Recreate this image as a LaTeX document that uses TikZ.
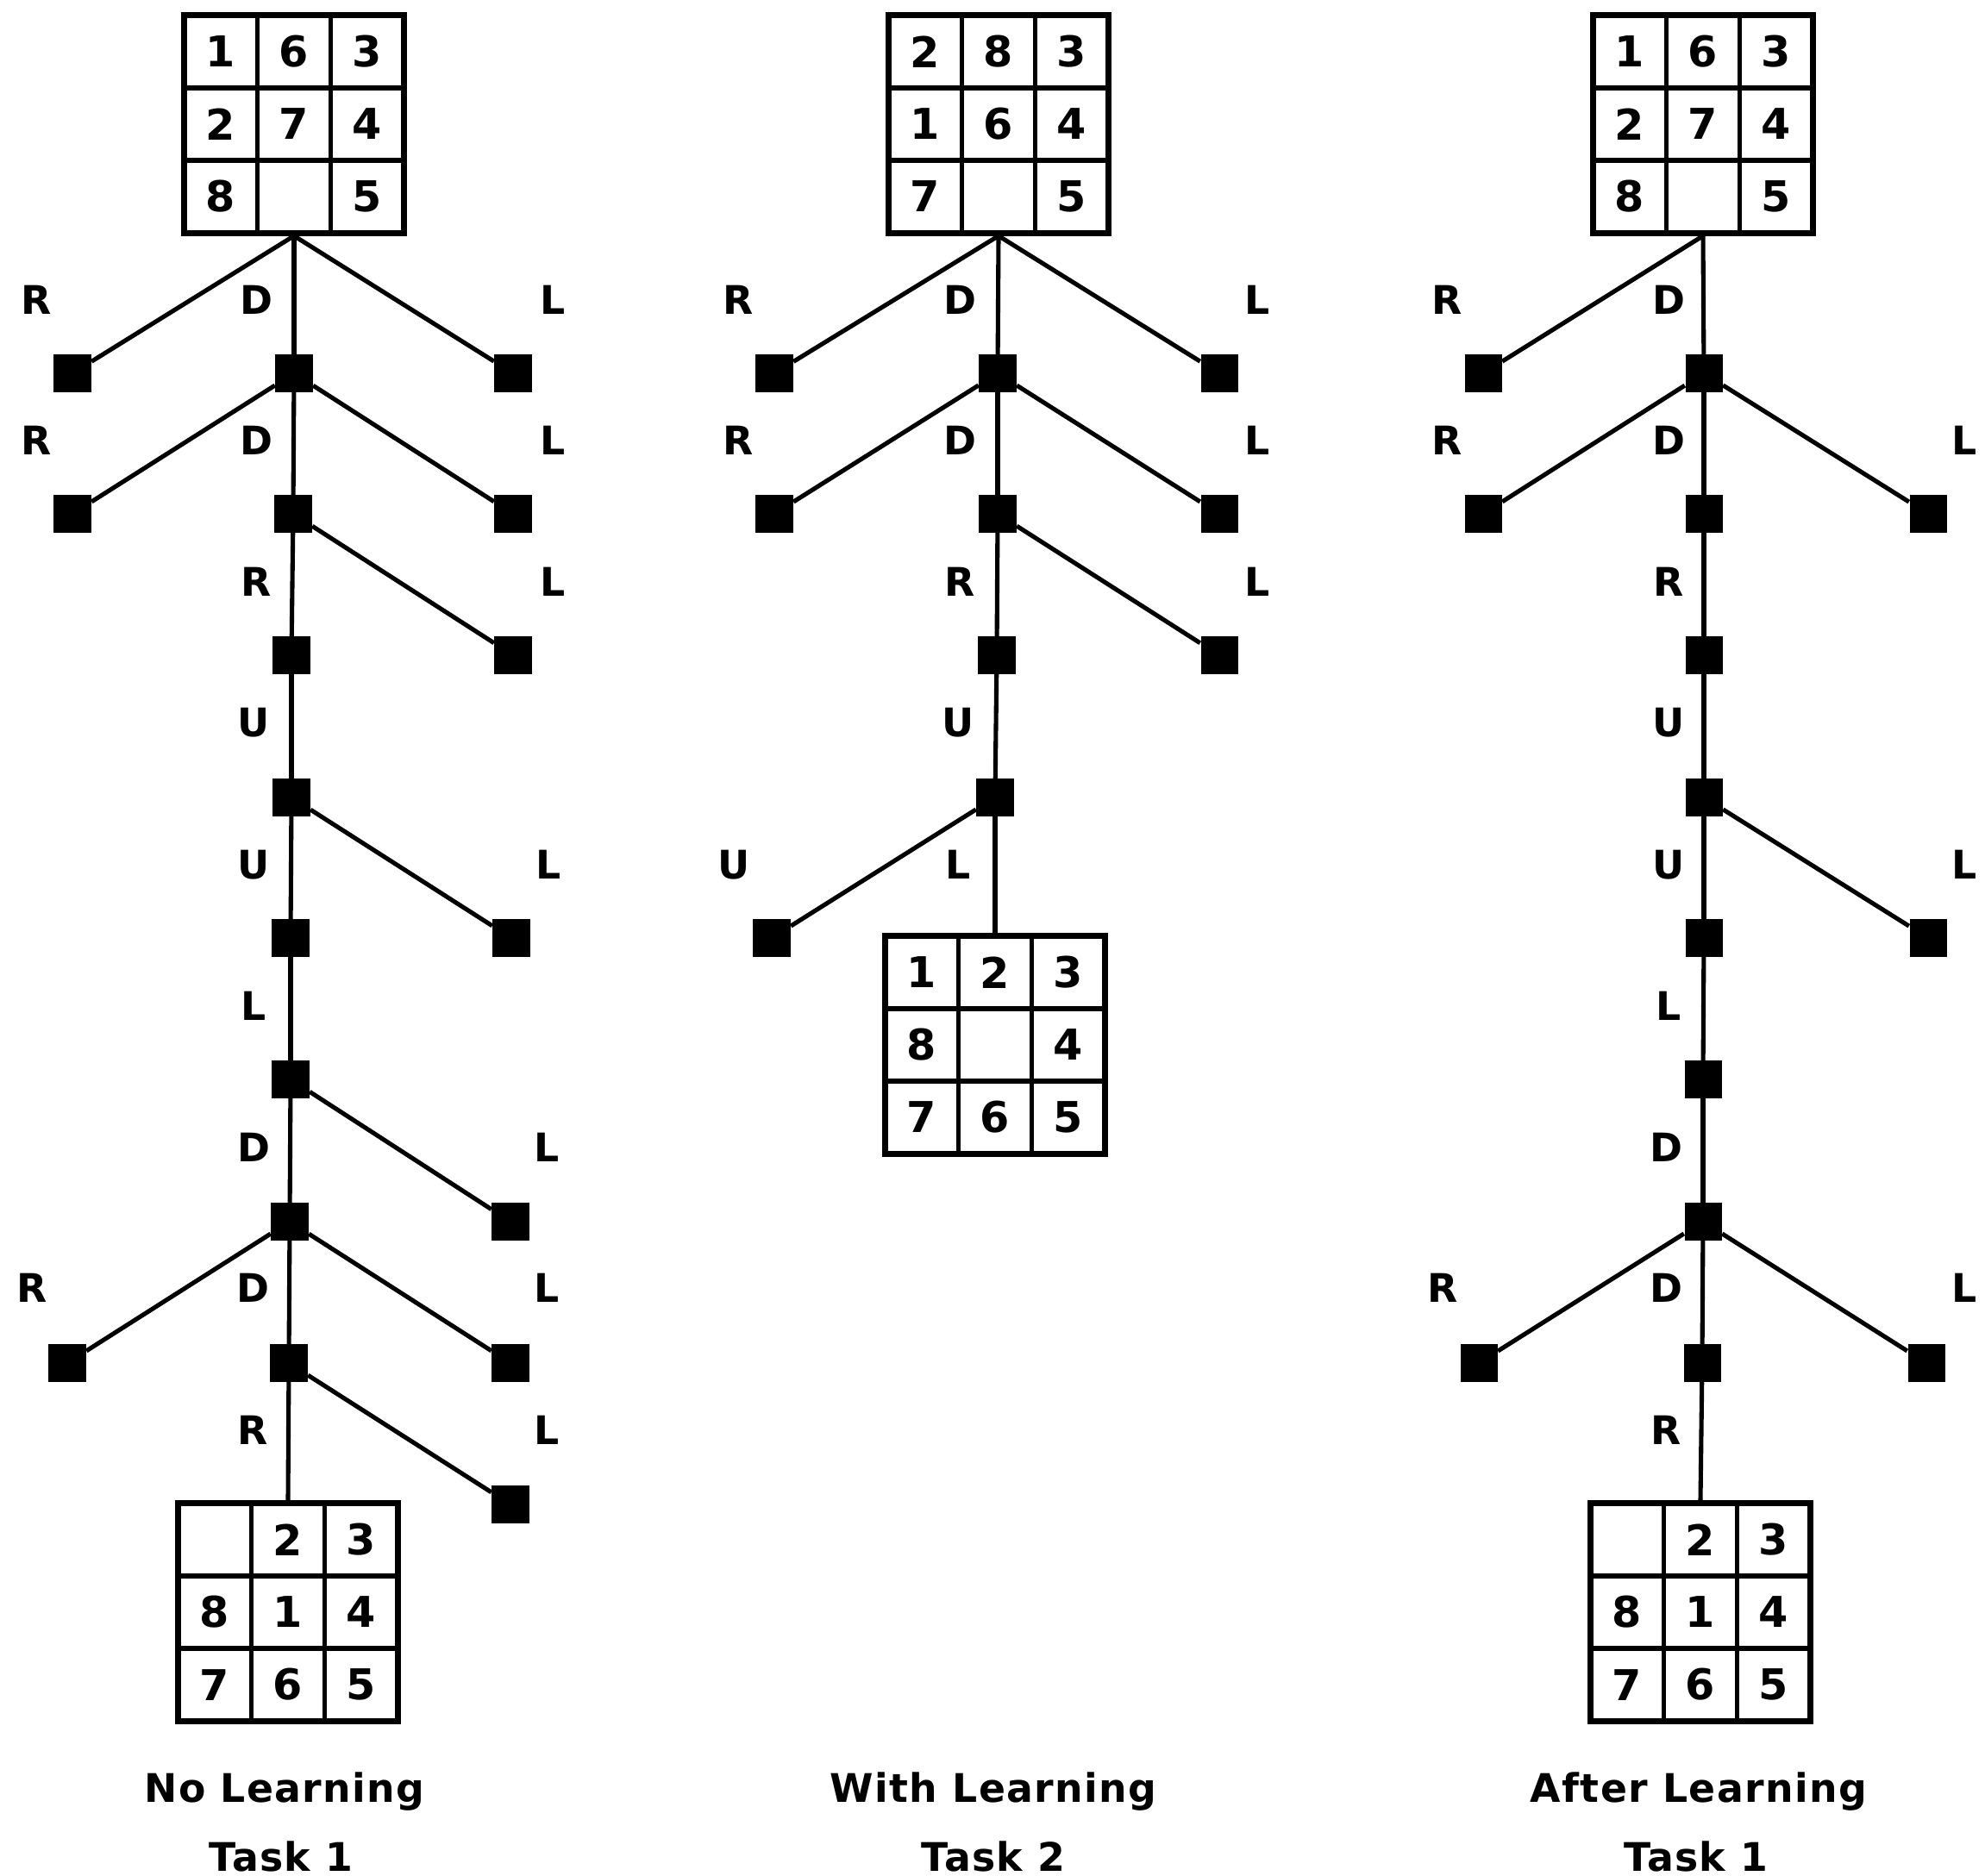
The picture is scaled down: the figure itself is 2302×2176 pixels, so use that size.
\documentclass[tikz,border=0pt]{standalone}
\usepackage{fontspec}
\setmainfont{DejaVu Sans}
\newfontfamily\capfont[LetterSpace=3]{DejaVu Sans}
\usetikzlibrary{matrix}
\begin{document}
\begin{tikzpicture}[x=0.01cm,y=-0.01cm,
  edge/.style={line width=1.45pt},
  leaf/.style={rectangle, fill=black, draw=none, minimum size=0.43cm, inner sep=0pt},
  lab/.style={font=\bfseries\fontsize{13}{15}\selectfont, inner sep=0pt},
  captxt/.style={font=\capfont\bfseries\fontsize{13}{15}\selectfont, inner sep=0pt, anchor=base},
  puzzle/.style={matrix of nodes, draw, line width=2pt, inner sep=-0.725pt,
    column sep=-1.45pt, row sep=-1.45pt, nodes in empty cells,
    nodes={draw, line width=1.45pt, minimum width=0.85cm, minimum height=0.84cm,
      inner sep=0pt, font=\bfseries\fontsize{14}{16}\selectfont, anchor=center}}
]
\useasboundingbox (0,0) rectangle (2302,2176);

% ---------- puzzles ----------
\matrix (a0) [puzzle] at (341,144) { 1 & 6 & 3 \\ 2 & 7 & 4 \\ 8 & & 5 \\ };
\matrix (ab) [puzzle] at (334,1870) { & 2 & 3 \\ 8 & 1 & 4 \\ 7 & 6 & 5 \\ };
\matrix (b0) [puzzle] at (1158,144) { 2 & 8 & 3 \\ 1 & 6 & 4 \\ 7 & & 5 \\ };
\matrix (bb) [puzzle] at (1154,1212) { 1 & 2 & 3 \\ 8 & & 4 \\ 7 & 6 & 5 \\ };
\matrix (c0) [puzzle] at (1975,144) { 1 & 6 & 3 \\ 2 & 7 & 4 \\ 8 & & 5 \\ };
\matrix (cb) [puzzle] at (1972,1870) { & 2 & 3 \\ 8 & 1 & 4 \\ 7 & 6 & 5 \\ };

% ---------- search nodes ----------
\foreach \n/\x/\y in {
  a1l/84/433, a1m/341/433, a1r/595/433,
  a2l/84/596, a2m/340/596, a2r/595/596,
  a3m/338/760, a3r/595/760,
  a4m/338/925,
  a5m/337/1088, a5r/593/1088,
  a6m/337/1252,
  a7m/336/1417, a7r/592/1417,
  a8l/78/1581, a8m/335/1581, a8r/592/1581,
  a9r/592/1745,
  b1l/898/433, b1m/1157/433, b1r/1414/433,
  b2l/898/596, b2m/1157/596, b2r/1414/596,
  b3m/1156/760, b3r/1414/760,
  b4m/1154/925,
  b5l/895/1088,
  c1l/1720/433, c1m/1976/433,
  c2l/1720/596, c2m/1976/596, c2r/2236/596,
  c3m/1976/760,
  c4m/1976/925,
  c5m/1976/1088, c5r/2236/1088,
  c6m/1975/1252,
  c7m/1975/1417,
  c8l/1715/1581, c8m/1974/1581, c8r/2234/1581}
  \node[leaf] (\n) at (\x,\y) {};

% ---------- connectors ----------
\foreach \p/\c in {
  a0.south/a1l, a0.south/a1m, a0.south/a1r,
  a1m/a2l, a1m/a2m, a1m/a2r,
  a2m/a3m, a2m/a3r,
  a3m/a4m,
  a4m/a5m, a4m/a5r,
  a5m/a6m,
  a6m/a7m, a6m/a7r,
  a7m/a8l, a7m/a8m, a7m/a8r,
  a8m/ab.north, a8m/a9r,
  b0.south/b1l, b0.south/b1m, b0.south/b1r,
  b1m/b2l, b1m/b2m, b1m/b2r,
  b2m/b3m, b2m/b3r,
  b3m/b4m,
  b4m/b5l, b4m/bb.north,
  c0.south/c1l, c0.south/c1m,
  c1m/c2l, c1m/c2m, c1m/c2r,
  c2m/c3m,
  c3m/c4m,
  c4m/c5m, c4m/c5r,
  c5m/c6m,
  c6m/c7m,
  c7m/c8l, c7m/c8m, c7m/c8r,
  c8m/cb.north}
  \draw[edge] (\p) -- (\c);

% ---------- move labels ----------
\foreach \x/\y/\t [count=\i] in {
  42/348/R, 297/348/D, 641/348/L,
  42/511/R, 297/511/D, 641/511/L,
  297/675/R, 641/675/L,
  294/838/U,
  294/1003/U, 636/1003/L,
  294/1167/L,
  294/1331/D, 634/1331/L,
  37/1494/R, 293/1494/D, 634/1494/L,
  293/1659/R, 634/1659/L,
  856/348/R, 1113/348/D, 1458/348/L,
  856/511/R, 1113/511/D, 1458/511/L,
  1113/675/R, 1458/675/L,
  1111/838/U,
  851/1003/U, 1111/1003/L,
  1678/348/R, 1935/348/D,
  1678/511/R, 1935/511/D, 2278/511/L,
  1935/675/R,
  1935/838/U,
  1935/1003/U, 2278/1003/L,
  1935/1167/L,
  1932/1331/D,
  1673/1494/R, 1932/1494/D, 2278/1494/L,
  1932/1659/R}
  \node[lab] (lab\i) at (\x,\y) {\t};

% ---------- captions ----------
\node[captxt] (cap1) at (330,2090) {No Learning};
\node[captxt] (cap2) at (326,2170) {Task 1};
\node[captxt] (cap3) at (1152,2090) {With Learning};
\node[captxt] (cap4) at (1152,2170) {Task 2};
\node[captxt] (cap5) at (1970,2090) {After Learning};
\node[captxt] (cap6) at (1967,2170) {Task 1};
\end{tikzpicture}
\end{document}
